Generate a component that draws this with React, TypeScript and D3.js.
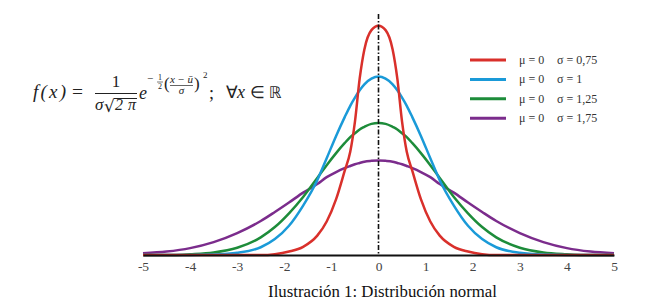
import React, { useEffect, useRef } from "react";
import * as d3 from "d3";

const xs = [-5, -4.5, -4, -3.5, -3, -2.5, -2.2, -1.9, -1.6, -1.3, -1.1, -0.9, -0.72, -0.6, -0.5, -0.4, -0.3, -0.15, 0,
  0.15, 0.3, 0.4, 0.5, 0.6, 0.72, 0.9, 1.1, 1.3, 1.6, 1.9, 2.2, 2.5, 3, 3.5, 4, 4.5, 5];

// read values (density) for each series
const redValues = [0, 0, 0, 0, 0, 0, 0.002, 0.008, 0.019, 0.045, 0.078, 0.13, 0.195, 0.24, 0.31, 0.41, 0.478, 0.523, 0.533,
  0.523, 0.478, 0.41, 0.31, 0.24, 0.195, 0.13, 0.078, 0.045, 0.019, 0.008, 0.002, 0, 0, 0, 0, 0, 0];
const blueValues = [0, 0, 0, 0.001, 0.005, 0.018, 0.037, 0.068, 0.115, 0.174, 0.225, 0.277, 0.32, 0.347, 0.366, 0.383, 0.397, 0.41, 0.415,
  0.41, 0.397, 0.383, 0.366, 0.347, 0.32, 0.277, 0.225, 0.174, 0.115, 0.068, 0.037, 0.018, 0.005, 0.001, 0, 0, 0];
const greenValues = [0, 0, 0.002, 0.006, 0.017, 0.041, 0.065, 0.097, 0.135, 0.179, 0.209, 0.237, 0.26, 0.274, 0.283, 0.292, 0.298, 0.305, 0.307,
  0.305, 0.298, 0.292, 0.283, 0.274, 0.26, 0.237, 0.209, 0.179, 0.135, 0.097, 0.065, 0.041, 0.017, 0.006, 0.002, 0, 0];
const purpleValues = [0.004, 0.008, 0.016, 0.03, 0.051, 0.079, 0.1, 0.122, 0.145, 0.165, 0.181, 0.193, 0.202, 0.207, 0.211, 0.214, 0.217, 0.219, 0.22,
  0.219, 0.217, 0.214, 0.211, 0.207, 0.202, 0.193, 0.181, 0.165, 0.145, 0.122, 0.1, 0.079, 0.051, 0.03, 0.016, 0.008, 0.004];

const muLabels = ["μ = 0", "μ = 0", "μ = 0", "μ = 0"];
const sigmaLabels = ["σ = 0,75", "σ = 1", "σ = 1,25", "σ = 1,75"];
const seriesColors = ["#d9302b", "#1a9ad8", "#1d8c3a", "#7b2c8c"];
const tickValues = [-5, -4, -3, -2, -1, 0, 1, 2, 3, 4, 5];
const caption = "Ilustración 1: Distribución normal";

const W = 655;
const H = 304;

export default function App() {
  const axisRef = useRef<SVGGElement>(null);
  const x = d3.scaleLinear().domain([-5, 5]).range([143, 614]);
  const y = d3.scaleLinear().domain([0, 0.6]).range([255, 255 - 0.6 * 430]);

  const seriesList = [redValues, blueValues, greenValues, purpleValues];
  const line = d3
    .line<number>()
    .x((_, i) => x(xs[i]))
    .y((d) => y(d))
    .curve(d3.curveMonotoneX);

  useEffect(() => {
    if (!axisRef.current) return;
    const g = d3.select(axisRef.current);
    g.selectAll("*").remove();
    g.call(
      d3
        .axisBottom(x)
        .tickValues(tickValues)
        .tickSize(0)
        .tickPadding(6)
        .tickFormat((d) => String(d))
    );
    g.select(".domain").attr("stroke", "#111").attr("stroke-width", 2);
    g.selectAll("text")
      .attr("font-family", "'Liberation Serif', 'Times New Roman', serif")
      .attr("font-size", 13.5)
      .attr("fill", "#444");
  }, []);

  const serif = "'Liberation Serif', 'Times New Roman', serif";
  const drawOrder = [3, 2, 1, 0];

  return (
    <svg
      width={W}
      height={H}
      style={{ position: "absolute", left: 0, top: 0, background: "#fff" }}
      fontFamily={serif}
    >
      <rect x={0} y={0} width={W} height={H} fill="#fff" />
      {/* curves */}
      {drawOrder.map((k) => (
        <path
          key={k}
          d={line(seriesList[k]) || ""}
          fill="none"
          stroke={seriesColors[k]}
          strokeWidth={2.5}
        />
      ))}
      {/* mean line */}
      <line
        x1={x(0)}
        x2={x(0)}
        y1={14}
        y2={255}
        stroke="#111"
        strokeWidth={1.6}
        strokeDasharray="5,2,1.5,2"
      />
      <g ref={axisRef} transform={`translate(0,${y(0)})`} />

      {/* legend */}
      {sigmaLabels.map((s, i) => (
        <g key={s} transform={`translate(0,${60 + i * 19.4})`}>
          <line x1={470} x2={506} y1={0} y2={0} stroke={seriesColors[i]} strokeWidth={3} />
          <text x={519} y={4} fontSize={12} fill="#333">{muLabels[i]}</text>
          <text x={557} y={4} fontSize={12} fill="#333">{s}</text>
        </g>
      ))}

      {/* formula */}
      <g fill="#222" fontFamily={serif}>
        <text x={33} y={98} fontSize={19} fontStyle="italic" textLength={33} lengthAdjust="spacing">f(x)</text>
        <text x={72} y={98} fontSize={19} textLength={11} lengthAdjust="spacingAndGlyphs">=</text>
        <text x={116} y={87} fontSize={17} textAnchor="middle">1</text>
        <line x1={95} x2={137} y1={93.5} y2={93.5} stroke="#222" strokeWidth={1.1} />
        <text x={95} y={110} fontSize={17} fontStyle="italic">σ</text>
        <text x={104} y={112} fontSize={17} fontFamily="'DejaVu Serif', serif">√</text>
        <line x1={114} x2={137} y1={98.5} y2={98.5} stroke="#222" strokeWidth={1} />
        <text x={115} y={110} fontSize={16} textLength={21} lengthAdjust="spacing" fontStyle="italic">2π</text>
        <text x={139} y={99} fontSize={18} fontStyle="italic">e</text>
        <text x={147} y={82} fontSize={11}>−</text>
        <text x={160} y={80} fontSize={8} textAnchor="middle">1</text>
        <line x1={157} x2={163} y1={82} y2={82} stroke="#222" strokeWidth={0.6} />
        <text x={160} y={89} fontSize={8} textAnchor="middle">2</text>
        <text x={164} y={89} fontSize={17}>(</text>
        <text x={170} y={83} fontSize={11} fontStyle="italic" textLength={23} lengthAdjust="spacing">x−ū</text>
        <line x1={170} x2={193} y1={85.5} y2={85.5} stroke="#222" strokeWidth={0.7} />
        <text x={181.5} y={94} fontSize={11} fontStyle="italic" textAnchor="middle">σ</text>
        <text x={194} y={89} fontSize={17}>)</text>
        <text x={203} y={78} fontSize={9}>2</text>
        <text x={209} y={99} fontSize={18}>;</text>
        <text x={226} y={98} fontSize={17}>∀</text>
        <text x={237} y={98} fontSize={18} fontStyle="italic">x</text>
        <text x={250} y={98} fontSize={17}>∈</text>
        <text x={269} y={98} fontSize={16} fontFamily="'DejaVu Sans', sans-serif">ℝ</text>
      </g>

      {/* caption */}
      <text x={382.5} y={297} fontSize={16.8} textAnchor="middle" fill="#111">{caption}</text>
    </svg>
  );
}
